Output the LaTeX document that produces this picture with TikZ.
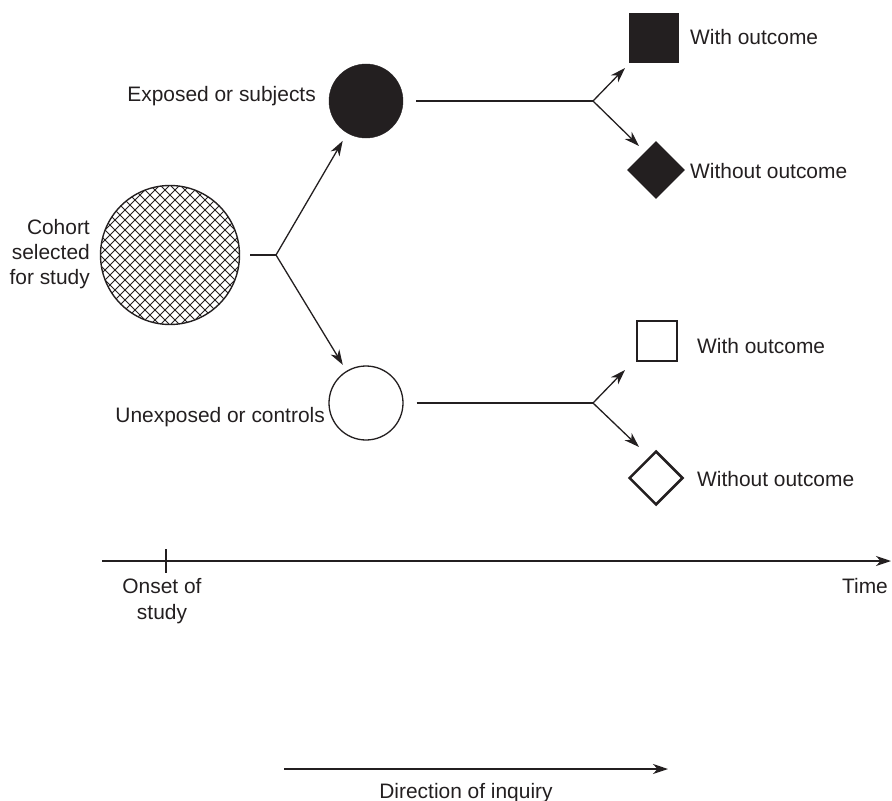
\documentclass[tikz,border=0pt]{standalone}
\usepackage{fontspec}
\setmainfont{Liberation Sans}
\usetikzlibrary{shapes.geometric,arrows.meta,calc}
\definecolor{ink}{HTML}{231F20}
\begin{document}
\begin{tikzpicture}[x=1bp,y=-1bp,
  lbl/.style={font=\fontsize{21}{25.5}\selectfont, text=ink, inner sep=0pt},
  ln/.style={line width=1.3bp, draw=ink},
  arr/.style={ln, -{Stealth[length=15bp,width=10bp,inset=4.5bp]}},
  hatch/.style={circle, minimum size=139bp, inner sep=0pt, draw=ink, line width=1.4bp,
    path picture={
      \foreach \c in {-160,-150,...,160}{
        \draw[ink, line width=0.9bp] ([xshift=\c bp]path picture bounding box.center) ++(-100bp,-100bp) -- ++(200bp,200bp);
        \draw[ink, line width=0.9bp] ([xshift=\c bp]path picture bounding box.center) ++(-100bp,100bp) -- ++(200bp,-200bp);
      }}}
]
\useasboundingbox (0,0) rectangle (892,801);

% shapes
\node[hatch] (cohort) at (170,255) {};
\node[circle, minimum size=74bp, inner sep=0pt, fill=ink, draw=ink] (exp) at (366,101) {};
\node[circle, minimum size=74bp, inner sep=0pt, draw=ink, line width=1.3bp] (unexp) at (366,403) {};
\node[minimum size=50bp, inner sep=0pt, fill=ink] (sq1) at (654,38) {};
\node[diamond, minimum size=58bp, inner sep=0pt, fill=ink] (dm1) at (656,170) {};
\node[minimum size=40bp, inner sep=0pt, draw=ink, line width=2.5bp] (sq2) at (657,341) {};
\node[diamond, minimum size=54bp, inner sep=0pt, draw=ink, line width=2.5bp] (dm2) at (656,478) {};

% branch points and arrow tips
\coordinate (b0) at (276,255);
\coordinate (b1) at (593,101);
\coordinate (b2) at (593,403);
\coordinate (t1) at (625,68);
\coordinate (t2) at (639,146);
\coordinate (t3) at (625,370);
\coordinate (t4) at (639,447);

% connectors
\draw[ln, shorten <=10bp] (cohort) -- (b0);
\draw[arr, shorten >=9bp] (b0) -- (exp);
\draw[arr, shorten >=7bp] (b0) -- (unexp);
\draw[ln, shorten <=13bp] (exp) -- (b1);
\draw[ln, shorten <=13bp] (unexp) -- (b2);
\draw[arr] (b1) -- (t1);
\draw[arr] (b1) -- (t2);
\draw[arr] (b2) -- (t3);
\draw[arr] (b2) -- (t4);

% labels
\node[lbl, align=right, anchor=east] (lcoh) at (90,254) {Cohort\\selected\\for study};
\node[lbl, anchor=base east] (lexp) at (316,101.5) {Exposed or subjects};
\node[lbl, anchor=base east] (lunexp) at (325,422.5) {Unexposed or controls};
\node[lbl, anchor=base west] (lw1) at (690,45) {With outcome};
\node[lbl, anchor=base west] (lwo1) at (690,178) {Without outcome};
\node[lbl, anchor=base west] (lw2) at (697,353) {With outcome};
\node[lbl, anchor=base west] (lwo2) at (697,486) {Without outcome};

% time axis
\coordinate (ta) at (102,561);
\coordinate (tb) at (891,561);
\coordinate (onset) at (166,561);
\draw[arr] (ta) -- (tb);
\draw[ln] ([yshift=12bp]onset) -- ([yshift=-12bp]onset);
\node[lbl, align=center] (lonset) at (162,601) {Onset of\\study};
\node[lbl, anchor=base] (ltime) at (865,593.5) {Time};

% direction of inquiry
\coordinate (da) at (284,769);
\coordinate (db) at (668,769);
\draw[arr] (da) -- (db);
\node[lbl, anchor=base] (ldir) at (466,798) {Direction of inquiry};
\end{tikzpicture}
\end{document}
